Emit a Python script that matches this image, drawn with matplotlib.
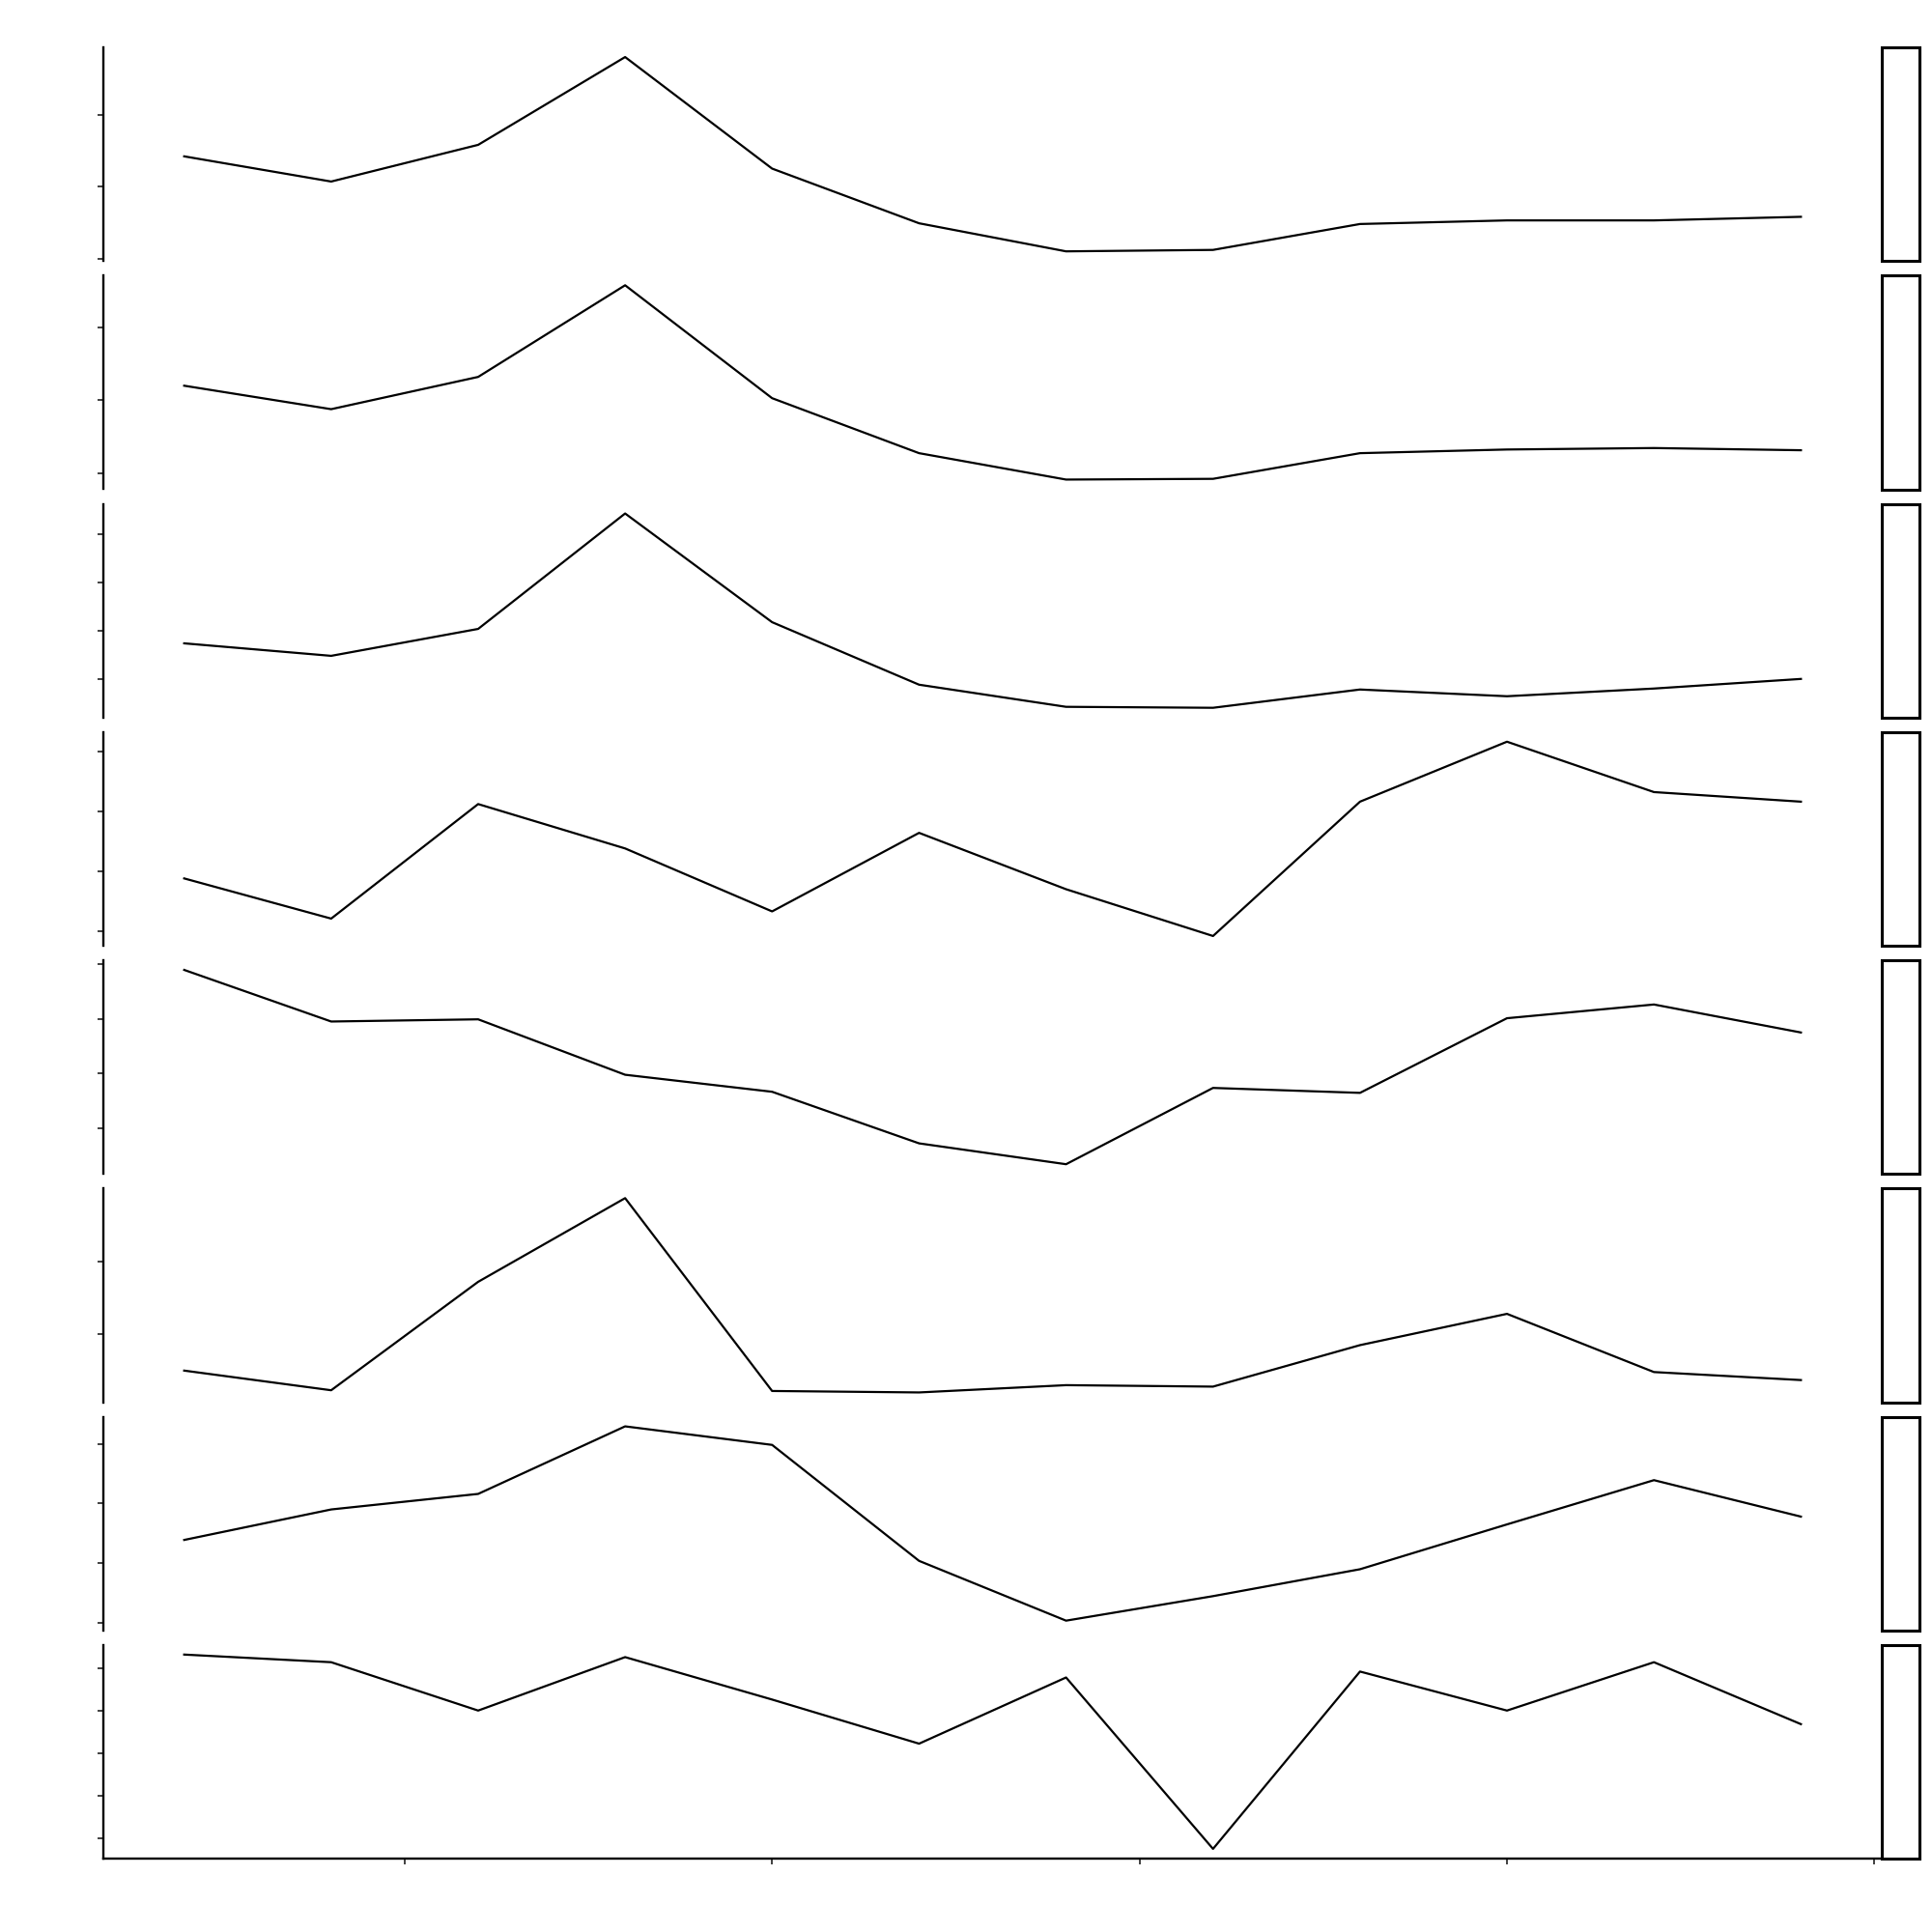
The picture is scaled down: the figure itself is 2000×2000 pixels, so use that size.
import matplotlib
matplotlib.use("Agg")
import matplotlib.pyplot as plt
from matplotlib.patches import Rectangle

# shared x positions and bottom axis breaks
x = list(range(1, 13))
x_ticks = [2.5, 5, 7.5, 10, 12.5]

# one series per facet (tick units per panel)
s1 = [24.2, 20.7, 25.8, 38.0, 22.5, 14.9, 11.0, 11.2, 14.8, 15.3, 15.3, 15.8]
s2 = [22.0, 18.8, 23.2, 35.7, 20.3, 12.8, 9.2, 9.3, 12.8, 13.3, 13.5, 13.2]
s3 = [8.7, 7.4, 10.2, 22.2, 10.9, 4.4, 2.1, 2.0, 3.9, 3.2, 4.0, 5.0]
s4 = [18.8, 12.1, 31.2, 23.8, 13.3, 26.4, 17.0, 9.2, 31.6, 41.6, 33.2, 31.6]
s5 = [38.9, 29.5, 29.9, 19.8, 16.7, 7.3, 3.5, 17.4, 16.5, 30.1, 32.6, 27.5]
s6 = [5.0, 2.3, 17.2, 28.7, 2.2, 2.0, 3.0, 2.8, 8.5, 12.8, 4.8, 3.7]
s7 = [23.9, 29.0, 31.6, 42.9, 39.8, 20.4, 10.4, 14.5, 19.0, 26.5, 33.9, 27.8]
s8 = [26.6, 25.7, 20.0, 26.3, 21.3, 16.1, 23.9, 3.7, 24.6, 20.0, 25.7, 18.4]
series = [s1, s2, s3, s4, s5, s6, s7, s8]

y_ticks = [
    [10, 20, 30],
    [10, 20, 30],
    [5, 10, 15, 20],
    [10, 20, 30, 40],
    [10, 20, 30, 40],
    [10, 20],
    [10, 20, 30, 40],
    [5, 10, 15, 20, 25],
]

W = 2000.0
fig = plt.figure(figsize=(20, 20), dpi=100)

left = 107 / W
right = 1948 / W
strip_w = 39 / W
top_px, bottom_px, gap_px = 49, 1924, 15
n = len(series)
h_px = (bottom_px - top_px - gap_px * (n - 1)) / n

for i, vals in enumerate(series):
    y0_px = top_px + i * (h_px + gap_px)
    b = 1 - (y0_px + h_px) / W
    h = h_px / W
    ax = fig.add_axes([left, b, right - left, h])
    ax.plot(x, vals, color="black", linewidth=1.6)

    lo, hi = min(vals), max(vals)
    pad = 0.05 * (hi - lo)
    ax.set_yticks(y_ticks[i])
    ax.set_ylim(lo - pad, hi + pad)
    ax.set_xlim(0.45, 12.55)
    ax.set_xticks(x_ticks)

    for side in ("top", "right"):
        ax.spines[side].set_visible(False)
    ax.spines["left"].set_linewidth(1.7)
    ax.spines["bottom"].set_linewidth(1.7)
    ax.tick_params(axis="y", length=4.3, width=1.3, color="#333333",
                   labelleft=False)
    last = i == n - 1
    ax.spines["bottom"].set_visible(last)
    ax.tick_params(axis="x", length=4.3 if last else 0, width=1.3,
                   color="#333333", labelbottom=False)

    # empty strip box on the right
    sax = fig.add_axes([right, b, strip_w, h])
    sax.set_axis_off()
    sax.add_patch(Rectangle((0, 0), 1, 1, transform=sax.transAxes,
                            facecolor="white", edgecolor="black",
                            linewidth=2.2, clip_on=False))

fig.savefig("out.png", dpi=100, facecolor="white")
plt.close(fig)
